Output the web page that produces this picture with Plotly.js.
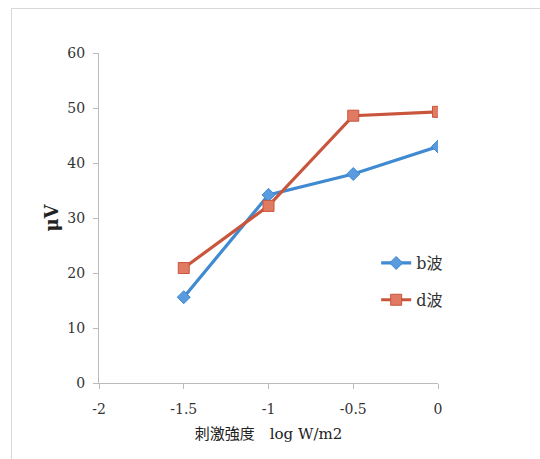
<!DOCTYPE html>
<html><head><meta charset="utf-8">
<script src="https://cdn.plot.ly/plotly-3.0.1.min.js"></script>
<style>
html,body{margin:0;padding:0;background:#fff;}
#wrap{position:relative;width:540px;height:459px;}
#frame{position:absolute;left:11px;top:8px;width:540px;height:460px;border-left:1px solid #d8d8d8;border-top:1px solid #d8d8d8;pointer-events:none;}
#chart{position:absolute;left:0;top:0;width:540px;height:459px;}
</style></head>
<body><div id="wrap"><div id="chart"></div><div id="frame"></div></div>
<script>
const xValues = [-1.5, -1, -0.5, 0];
const bWave = [15.6, 34.2, 38.0, 43.0];
const dWave = [20.9, 32.2, 48.6, 49.3];
const seriesNames = ["b波", "d波"];
const xTicks = [-2, -1.5, -1, -0.5, 0];
const yTicks = [0, 10, 20, 30, 40, 50, 60];

const serif = "DejaVu Serif";
const cjk = "DejaVu Serif, Noto Sans CJK JP";
const traces = [
  {x: xValues, y: bWave, name: seriesNames[0], legendgroup: "b", type: "scatter", mode: "lines+markers",
   line: {color: "#3f8ad0", width: 3.2},
   marker: {symbol: "diamond", size: 10, color: "#5a9be0", line: {color: "#3f8ad0", width: 1}}},
  {x: xValues, y: dWave, name: seriesNames[1], legendgroup: "d", type: "scatter", mode: "lines+markers",
   line: {color: "#c9553c", width: 3.2},
   marker: {symbol: "square", size: 11, color: "#e07a62", line: {color: "#c9553c", width: 1}}}
];
const layout = {
  width: 540, height: 459,
  margin: {l: 99, r: 102, t: 53, b: 76},
  paper_bgcolor: "#fff", plot_bgcolor: "#fff",
  font: {family: serif, color: "#333", size: 14},
  showlegend: true,
  legend: {x: 1.03, y: 0.415, xanchor: "right", yanchor: "top", bgcolor: "rgba(0,0,0,0)",
           font: {family: cjk, size: 16, color: "#333"},
           traceorder: "grouped", tracegroupgap: 13, itemwidth: 30},
  xaxis: {range: [-2, 0], tickvals: xTicks, ticktext: xTicks.map(String),
          showgrid: false, zeroline: false, showline: true, linecolor: "#bbb", linewidth: 1,
          ticks: "outside", ticklen: 5, tickcolor: "#bbb", ticklabelstandoff: 8,
          tickfont: {family: serif, size: 14, color: "#333"},
          title: {text: "刺激強度　log W/m2", font: {family: cjk, size: 15, color: "#222"}, standoff: 12}},
  yaxis: {range: [0, 60], tickvals: yTicks, showgrid: false, zeroline: false,
          showline: true, linecolor: "#bbb", linewidth: 1,
          ticks: "outside", ticklen: 5, tickcolor: "#bbb", ticklabelstandoff: 5,
          tickfont: {family: serif, size: 14, color: "#333"},
          title: {text: "<b>μV</b>", font: {family: serif, size: 18, color: "#222"}, standoff: 4}}
};
Plotly.newPlot("chart", traces, layout, {displayModeBar: false, staticPlot: true});
</script></body></html>
